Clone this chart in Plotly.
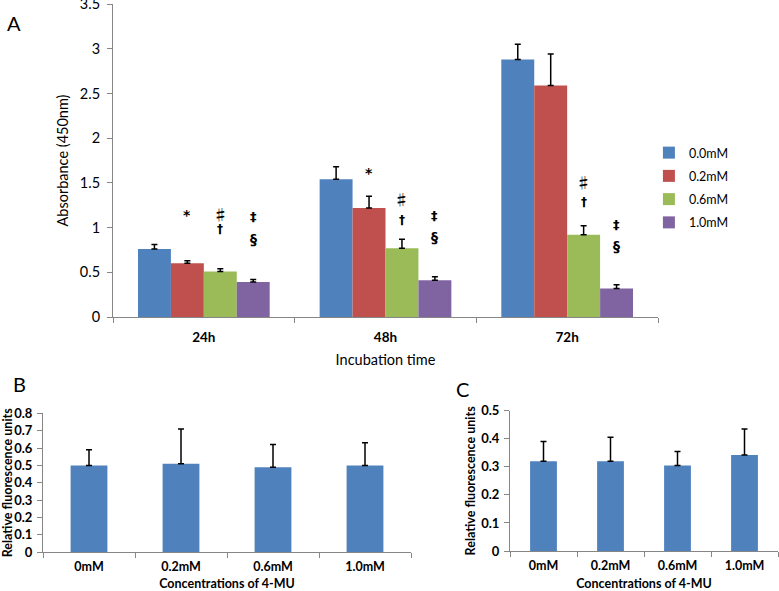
import plotly.graph_objects as go

# ---------------- Data ----------------
times = ["24h", "48h", "72h"]
conc_series = ["0.0mM", "0.2mM", "0.6mM", "1.0mM"]
absorbance = {
    "0.0mM": [0.76, 1.54, 2.88],
    "0.2mM": [0.60, 1.22, 2.59],
    "0.6mM": [0.51, 0.77, 0.92],
    "1.0mM": [0.39, 0.41, 0.32],
}
absorbance_err = {
    "0.0mM": [0.05, 0.14, 0.17],
    "0.2mM": [0.03, 0.13, 0.35],
    "0.6mM": [0.03, 0.10, 0.10],
    "1.0mM": [0.03, 0.04, 0.04],
}
series_colors = ["#4F81BD", "#C0504D", "#9BBB59", "#8064A2"]

# significance marks: (time, series, symbol, y level)
sig_marks = [
    ("24h", "0.2mM", "*", 1.14),
    ("24h", "0.6mM", "♯", 1.16),
    ("24h", "0.6mM", "†", 0.98),
    ("24h", "1.0mM", "‡", 1.12),
    ("24h", "1.0mM", "§", 0.87),
    ("48h", "0.2mM", "*", 1.61),
    ("48h", "0.6mM", "♯", 1.32),
    ("48h", "0.6mM", "†", 1.08),
    ("48h", "1.0mM", "‡", 1.14),
    ("48h", "1.0mM", "§", 0.90),
    ("72h", "0.6mM", "♯", 1.52),
    ("72h", "0.6mM", "†", 1.29),
    ("72h", "1.0mM", "‡", 1.03),
    ("72h", "1.0mM", "§", 0.79),
]

conc_labels = ["0mM", "0.2mM", "0.6mM", "1.0mM"]
rfu_b = [0.50, 0.51, 0.49, 0.50]
rfu_b_err = [0.09, 0.20, 0.13, 0.13]
rfu_c = [0.32, 0.32, 0.305, 0.342]
rfu_c_err = [0.07, 0.085, 0.05, 0.093]

# ---------------- Figure ----------------
FONT = "Lato, 'Open Sans', sans-serif"
AXIS_COL = "#868686"
TXT = "#000000"

fig = go.Figure()

for name, col in zip(conc_series, series_colors):
    fig.add_trace(go.Bar(
        x=times, y=absorbance[name], name=name, legendgroup=name,
        marker=dict(color=col, line=dict(width=0)),
        error_y=dict(type="data", array=absorbance_err[name], arrayminus=[0] * 3,
                     symmetric=False, color="black", thickness=1.5, width=3),
        xaxis="x", yaxis="y",
    ))

for vals, errs, ax in [(rfu_b, rfu_b_err, "2"), (rfu_c, rfu_c_err, "3")]:
    fig.add_trace(go.Bar(
        x=conc_labels, y=vals, showlegend=False, width=0.4,
        marker=dict(color="#4F81BD", line=dict(width=0)),
        error_y=dict(type="data", array=errs, arrayminus=[0] * 4, symmetric=False,
                     color="black", thickness=1.5, width=3),
        xaxis="x" + ax, yaxis="y" + ax,
    ))

# bar offsets within group (in px) for significance marks
group_px = 182 * 0.725
bar_px = group_px / 4
offsets = {s: (i - 1.5) * bar_px for i, s in enumerate(conc_series)}
sym_size = {"*": 14, "♯": 15, "†": 12, "‡": 13, "§": 14}
annotations = []
for t, s, sym, lvl in sig_marks:
    txt = "<b>%s</b>" % sym
    fam = "'Noto Sans CJK JP', 'DejaVu Sans'" if sym == "♯" else "DejaVu Sans"
    annotations.append(dict(
        x=t, y=lvl, xref="x", yref="y", text=txt, showarrow=False,
        xshift=offsets[s], yanchor="middle",
        font=dict(family=fam, size=sym_size[sym], color=TXT),
    ))

for lab, x, y in [("A", 14, 23), ("B", 19, 384), ("C", 463, 389)]:
    annotations.append(dict(
        x=x / 779, y=1 - y / 591, xref="paper", yref="paper", text=lab,
        showarrow=False, xanchor="center", yanchor="middle",
        font=dict(family=FONT, size=20, color=TXT),
    ))

common_axis = dict(showgrid=False, zeroline=False, showline=True, linecolor=AXIS_COL,
                   linewidth=1, ticks="outside", tickcolor=AXIS_COL, ticklen=5,
                   automargin=False, ticklabeloverflow="allow")

fig.update_layout(
    width=779, height=591,
    margin=dict(l=0, r=0, t=0, b=0),
    paper_bgcolor="white", plot_bgcolor="white",
    font=dict(family=FONT, color=TXT),
    barmode="group",
    bargap=0.275, bargroupgap=0,
    showlegend=True,
    legend=dict(x=0.833, y=1 - 138 / 591, xanchor="left", yanchor="top",
                font=dict(family=FONT, size=12.5, color=TXT),
                tracegroupgap=4, itemwidth=30, bgcolor="rgba(0,0,0,0)"),
    xaxis=dict(domain=[113 / 779, 658 / 779], anchor="y", tickson="boundaries",
               tickfont=dict(size=13.5, weight="bold"), ticklabelstandoff=8,
               title=dict(text="Incubation time", font=dict(size=14.5), standoff=10),
               **common_axis),
    yaxis=dict(domain=[1 - 317 / 591, 1 - 4 / 591], range=[0, 3.5], dtick=0.5, anchor="x",
               tickfont=dict(size=14.5), ticklabelstandoff=4,
               title=dict(text="Absorbance (450nm)", font=dict(size=14.5), standoff=7),
               **common_axis),
    xaxis2=dict(domain=[43 / 779, 411 / 779], anchor="y2", tickson="boundaries",
                tickfont=dict(size=12.5, weight="bold"), ticklabelstandoff=3,
                title=dict(text="Concentrations of 4-MU", font=dict(size=12.5, weight="bold"), standoff=8),
                **common_axis),
    yaxis2=dict(domain=[1 - 552.3 / 591, 1 - 413.3 / 591], anchor="x2", range=[0, 0.8], dtick=0.1,
                tickfont=dict(size=13, weight="bold"), ticklabelstandoff=2,
                title=dict(text="Relative fluorescence units", font=dict(size=12.5, weight="bold"), standoff=0),
                **common_axis),
    xaxis3=dict(domain=[510 / 779, 778 / 779], anchor="y3", tickson="boundaries",
                tickfont=dict(size=12.5, weight="bold"), ticklabelstandoff=3,
                title=dict(text="Concentrations of 4-MU", font=dict(size=12.5, weight="bold"), standoff=8),
                **common_axis),
    yaxis3=dict(domain=[1 - 551 / 591, 1 - 410.7 / 591], anchor="x3", range=[0, 0.5], dtick=0.1,
                tickfont=dict(size=13, weight="bold"), ticklabelstandoff=2,
                title=dict(text="Relative fluorescence units", font=dict(size=12.5, weight="bold"), standoff=2),
                **common_axis),
    annotations=annotations,
)

fig.write_html("out.html", config={"displayModeBar": False},
               post_script="document.body.style.margin='0px';")
